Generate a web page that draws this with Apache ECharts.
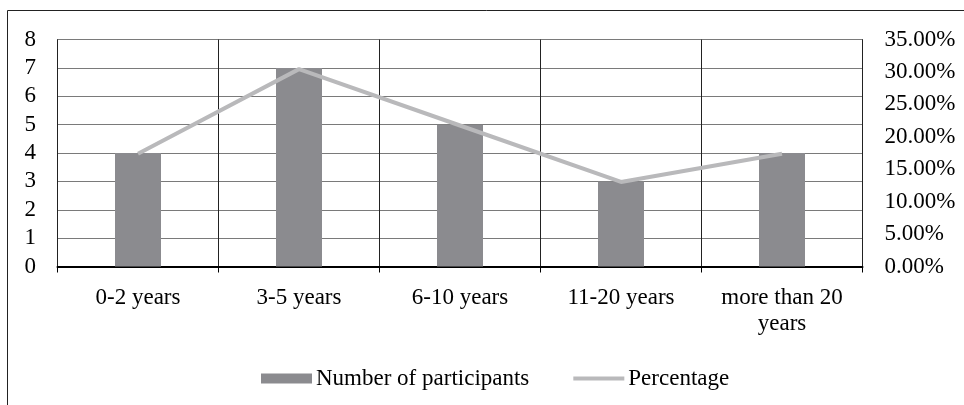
<!DOCTYPE html>
<html>
<head>
<meta charset="utf-8">
<script src="https://cdn.jsdelivr.net/npm/echarts@6/dist/echarts.min.js"></script>
<style>
  html, body { margin: 0; padding: 0; background: #fff; }
  #chart { width: 964px; height: 405px; }
</style>
</head>
<body>
<div id="chart"></div>
<script>
// Years of experience groups and participant counts
const categories = ['0-2 years', '3-5 years', '6-10 years', '11-20 years', 'more than 20\nyears'];
const participants = [4, 7, 5, 3, 4];
// Share of all participants, in percent
const percentage = [17.39, 30.43, 21.74, 13.04, 17.39];
const countTicks = { min: 0, max: 8, interval: 1 };
const pctTicks = { min: 0, max: 35, interval: 5 };

const FONT = '"Liberation Serif", "Times New Roman", serif';
const FS = 23;
// thin horizontal stroke centred in the 51x10 legend box
const LINE_ICON = 'path://M0,0L0,0M0,3L51,3L51,7L0,7ZM51,10L51,10';
const chart = echarts.init(document.getElementById('chart'), null, { renderer: 'canvas' });

chart.setOption({
  animation: false,
  backgroundColor: '#fff',
  textStyle: { fontFamily: FONT, color: '#000' },
  graphic: [{
    type: 'rect',
    shape: { x: 7.5, y: 10.5, width: 1000, height: 500 },
    style: { fill: 'none', stroke: '#222', lineWidth: 1 },
    silent: true
  }],
  grid: {
    left: 57.5, right: 101.5, top: 39.5, bottom: 138.5,
    show: true, borderColor: '#222', borderWidth: 1, backgroundColor: 'transparent'
  },
  legend: {
    left: 256, top: 362,
    itemWidth: 51, itemHeight: 10, itemGap: 44,
    textStyle: { fontFamily: FONT, fontSize: FS, color: '#000', padding: [0, 0, 0, -1] },
    data: [
      { name: 'Number of participants', icon: 'rect' },
      { name: 'Percentage', icon: LINE_ICON, itemStyle: { color: '#b9b9bb', borderWidth: 0 } }
    ]
  },
  xAxis: {
    type: 'category',
    data: categories,
    boundaryGap: true,
    axisLine: { show: true, lineStyle: { color: '#000', width: 2 } },
    axisTick: { show: true, length: 6, lineStyle: { color: '#000', width: 1 } },
    axisLabel: { fontFamily: FONT, fontSize: FS, color: '#000', margin: 18, lineHeight: 26 },
    splitLine: { show: true, lineStyle: { color: '#222', width: 1 } }
  },
  yAxis: [{
    type: 'value',
    min: countTicks.min, max: countTicks.max, interval: countTicks.interval,
    position: 'left',
    axisLine: { show: false },
    axisTick: { show: false },
    axisLabel: { fontFamily: FONT, fontSize: FS, color: '#000', align: 'left', margin: 33 },
    splitLine: { show: true, lineStyle: { color: '#7a7a7a', width: 1 } }
  }, {
    type: 'value',
    min: pctTicks.min, max: pctTicks.max, interval: pctTicks.interval,
    position: 'right',
    axisLine: { show: false },
    axisTick: { show: false },
    axisLabel: {
      fontFamily: FONT, fontSize: FS, color: '#000', align: 'left', margin: 22,
      formatter: v => v.toFixed(2) + '%'
    },
    splitLine: { show: false }
  }],
  series: [{
    name: 'Number of participants',
    type: 'bar',
    yAxisIndex: 0,
    data: participants,
    barWidth: 46,
    itemStyle: { color: '#8b8b8f' }
  }, {
    name: 'Percentage',
    type: 'line',
    yAxisIndex: 1,
    data: percentage,
    symbol: 'none',
    lineStyle: { color: '#b9b9bb', width: 4 },
    itemStyle: { color: '#b9b9bb' }
  }]
});
</script>
</body>
</html>
